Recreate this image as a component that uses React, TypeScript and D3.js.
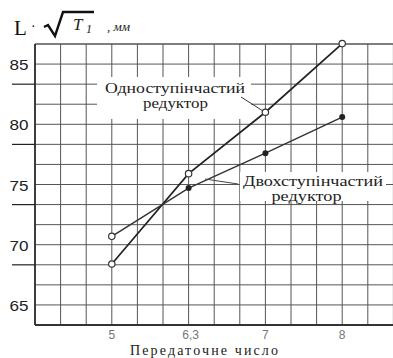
import React from "react";
import * as d3 from "d3";

// передаточні числа (категорії по осі X)
const ratios = ["5", "6,3", "7", "8"];
// L·√T1, мм
const singleStage = [68.4, 75.9, 81.0, 86.7];
const twoStage = [70.7, 74.7, 77.6, 80.6];
// open marker for the first two-stage point, as in the source
const twoStageOpen = [true, false, false, false];
const yLabels = [65, 70, 75, 80, 85];
const yMinorTicks = [68.33, 73.33, 78.33, 83.33];

const W = 393;
const H = 358;
const serif = "'Liberation Serif', 'DejaVu Serif', serif";
const sans = "'Liberation Sans', Arial, sans-serif";

export default function App() {
  const plotLeft = 35;
  const plotRight = 393.4;
  const plotTop = 44;
  const plotBottom = 325;

  // categories are evenly spaced, three grid cells apart
  const x = d3.scaleLinear().domain([-1, 3 + 2 / 3]).range([plotLeft, plotRight]);
  const y = d3.scaleLinear().domain([190 / 3, 260 / 3]).range([plotBottom, plotTop]);

  const vGrid = d3.range(0, 15).map((k) => -1 + k / 3);
  const hGrid = d3.range(0, 15).map((k) => 190 / 3 + (k * 5) / 3);

  const line = d3
    .line<number>()
    .x((_, i) => x(i))
    .y((d) => y(d));

  return (
    <div style={{ position: "absolute", left: 0, top: 0 }}>
      <svg width={W} height={H} style={{ display: "block", background: "#fff" }}>
        {/* grid */}
        <g stroke="#555" strokeWidth={1}>
          {vGrid.map((v, i) => (
            <line key={"v" + i} x1={x(v)} x2={x(v)} y1={plotTop} y2={plotBottom} />
          ))}
          {hGrid.map((v, i) => (
            <line key={"h" + i} x1={plotLeft} x2={W} y1={y(v)} y2={y(v)} />
          ))}
          <line x1={plotLeft} x2={W} y1={plotTop} y2={plotTop} />
        </g>
        {/* axes */}
        <line x1={plotLeft} x2={plotLeft} y1={plotTop} y2={plotBottom} stroke="#222" strokeWidth={1.6} />
        <line x1={plotLeft} x2={W} y1={plotBottom} y2={plotBottom} stroke="#333" strokeWidth={2} />
        {yMinorTicks.map((v) => (
          <line key={"t" + v} x1={12} x2={plotLeft} y1={y(v)} y2={y(v)} stroke="#222" strokeWidth={1.2} />
        ))}

        {/* y labels */}
        {yLabels.map((v) => (
          <text
            key={"yl" + v}
            x={19}
            y={y(v) + 6}
            textAnchor="middle"
            fontFamily={sans}
            fontSize={15}
            fill="#222"
            textLength={19}
            lengthAdjust="spacingAndGlyphs"
          >
            {v}
          </text>
        ))}

        {/* x labels */}
        {ratios.map((r, i) => (
          <text
            key={"xl" + r}
            x={x(i) + (i === 1 ? 2 : 0)}
            y={339}
            textAnchor="middle"
            fontFamily={sans}
            fontSize={12}
            fill="#777"
          >
            {r}
          </text>
        ))}
        <text
          x={204}
          y={355}
          textAnchor="middle"
          fontFamily={serif}
          fontSize={14}
          fill="#222"
          textLength={148}
          lengthAdjust="spacing"
        >
          Передаточне число
        </text>

        {/* title: L·√T1, мм */}
        <text x={14} y={35} fontFamily={serif} fontSize={21} fill="#111">
          L
        </text>
        <text x={31} y={31} fontFamily={serif} fontSize={14} fill="#111">
          ·
        </text>
        <path d="M44,27 L48,25 L55,36 L63,12 L94,12" fill="none" stroke="#111" strokeWidth={2.4} />
        <text x={73} y={30} fontFamily={serif} fontStyle="italic" fontSize={17} fill="#222">
          T
        </text>
        <text x={86} y={33} fontFamily={serif} fontStyle="italic" fontSize={12} fill="#222">
          1
        </text>
        <text x={107} y={31} fontFamily={serif} fontStyle="italic" fontSize={13} fill="#222">
          , мм
        </text>

        {/* label boxes */}
        <rect x={97} y={77} width={154} height={42} fill="#fff" />
        <rect x={240} y={172} width={146} height={29} fill="#fff" />

        {/* series lines */}
        <path d={line(singleStage) ?? ""} fill="none" stroke="#222" strokeWidth={1.7} />
        <path d={line(twoStage) ?? ""} fill="none" stroke="#333" strokeWidth={1.5} />

        {/* leaders */}
        <line x1={241} y1={97} x2={x(2) - 2} y2={y(singleStage[2]) - 1} stroke="#333" strokeWidth={1} />
        <line x1={205} y1={179} x2={238} y2={184} stroke="#444" strokeWidth={1} />

        {/* markers */}
        {singleStage.map((v, i) => (
          <circle key={"s" + i} cx={x(i)} cy={y(v)} r={3.2} fill="#fff" stroke="#333" strokeWidth={1.2} />
        ))}
        {twoStage.map((v, i) =>
          twoStageOpen[i] ? (
            <circle key={"d" + i} cx={x(i)} cy={y(v)} r={3.2} fill="#fff" stroke="#333" strokeWidth={1.2} />
          ) : (
            <circle key={"d" + i} cx={x(i)} cy={y(v)} r={3} fill="#222" />
          )
        )}

        {/* label texts */}
        <text x={175} y={93} textAnchor="middle" fontFamily={serif} fontSize={14} fill="#222" textLength={140} lengthAdjust="spacingAndGlyphs">
          Одноступінчастий
        </text>
        <text x={175.5} y={108} textAnchor="middle" fontFamily={serif} fontSize={14} fill="#222" textLength={65} lengthAdjust="spacingAndGlyphs">
          редуктор
        </text>
        <text x={313} y={186} textAnchor="middle" fontFamily={serif} fontSize={14} fill="#222" textLength={140} lengthAdjust="spacingAndGlyphs">
          Двохступінчастий
        </text>
        <text x={306.5} y={201} textAnchor="middle" fontFamily={serif} fontSize={14} fill="#222" textLength={70} lengthAdjust="spacingAndGlyphs">
          редуктор
        </text>
      </svg>
    </div>
  );
}
